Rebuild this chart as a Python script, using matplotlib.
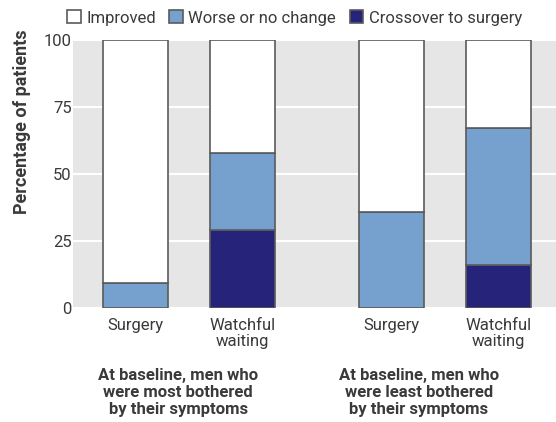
import matplotlib.pyplot as plt
import numpy as np

# =============================================================================
# Data
# =============================================================================

bar_labels = ['Surgery', 'Watchful\nwaiting', 'Surgery', 'Watchful\nwaiting']
group_labels = ['At baseline, men who\nwere most bothered\nby their symptoms',
                'At baseline, men who\nwere least bothered\nby their symptoms']

crossover = np.array([0, 29, 0, 16])
worse = np.array([9.5, 29, 36, 51])
improved = 100 - crossover - worse

series_names = ['Improved', 'Worse or no change', 'Crossover to surgery']

# =============================================================================
# Plot
# =============================================================================

plt.rcParams['font.family'] = ['Roboto', 'DejaVu Sans']
txt = '#3a3a3a'
edge = '#5a5a5a'
c_light = '#76a1cf'
c_dark = '#25237a'

fig = plt.figure(figsize=(5.56, 4.22), dpi=100)
ax = fig.add_axes([73/556, 1 - 308/422, (556-73)/556, (308-40)/422])
ax.set_facecolor('#e6e6e6')

x = np.array([0, 1, 2.393, 3.393])
w = 0.607

b1 = ax.bar(x, crossover, w, color=c_dark, edgecolor=edge, linewidth=1.2, zorder=3)
b2 = ax.bar(x, worse, w, bottom=crossover, color=c_light, edgecolor=edge, linewidth=1.2, zorder=3)
b3 = ax.bar(x, improved, w, bottom=crossover + worse, color='white', edgecolor=edge, linewidth=1.2, zorder=3)

ax.set_xlim(-0.584, 3.93)
ax.set_ylim(0, 100)
ax.set_yticks([0, 25, 50, 75, 100])
ax.yaxis.grid(True, color='white', linewidth=1.5, zorder=0)
ax.set_axisbelow(True)
for s in ax.spines.values():
    s.set_visible(False)
ax.tick_params(axis='both', length=0, labelsize=12, labelcolor=txt)
ax.tick_params(axis='y', pad=1)
ax.set_xticks(x)
ax.set_xticklabels(bar_labels, linespacing=1.1)
ax.tick_params(axis='x', pad=7)

fig.text(22/556, 1 - 122/422, 'Percentage of patients', rotation=90, ha='center', va='center',
         fontsize=13, fontweight='bold', color=txt)

for gx, lab in zip([0.40, 2.65], group_labels):
    ax.text(gx, -22.5, lab, ha='center', va='top', fontsize=12, fontweight='bold',
            color=txt, linespacing=1.17, transform=ax.transData, clip_on=False)

leg = fig.legend([b3[0], b2[0], b1[0]], series_names, loc='center right',
                 bbox_to_anchor=(522/556, 1 - 18/422), ncol=3, frameon=False,
                 fontsize=12, handlelength=0.8, handleheight=0.8, handletextpad=0.35,
                 columnspacing=0.8, borderaxespad=0, borderpad=0)
for t in leg.get_texts():
    t.set_color(txt)

plt.savefig('out.png', dpi=100)
